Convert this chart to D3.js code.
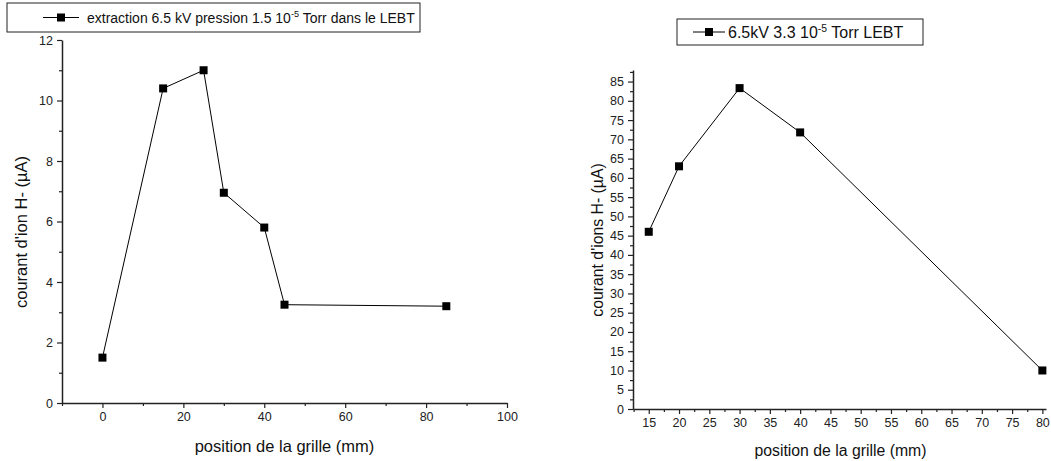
<!DOCTYPE html>
<html>
<head>
<meta charset="utf-8">
<script src="https://cdn.jsdelivr.net/npm/d3@7"></script>
<style>
  body { margin: 0; background: #fff; }
  svg { font-family: "Liberation Sans", Arial, sans-serif; }
</style>
</head>
<body>
<svg id="chart" width="1051" height="461"></svg>
<script>
// left panel data
const leftX = [0, 15, 25, 30, 40, 45, 85];
const leftY = [1.5, 10.4, 11, 6.95, 5.8, 3.25, 3.2];
const leftXTicks = [0, 20, 40, 60, 80, 100];
const leftYTicks = [0, 2, 4, 6, 8, 10, 12];

// right panel data
const rightX = [15, 20, 30, 40, 80];
const rightY = [46, 63, 83.3, 71.8, 10];
const rightXTicks = d3.range(15, 81, 5);
const rightYTicks = d3.range(0, 86, 5);

let svg = d3.select("#chart");

function panel(cfg) {
    let g = svg.append("g");
    let x = d3.scaleLinear().domain(cfg.xDomain).range([cfg.left, cfg.right]);
    let y = d3.scaleLinear().domain(cfg.yDomain).range([cfg.bottom, cfg.top]);

    // minor ticks
    g.append("g")
        .attr("transform", `translate(0,${cfg.bottom})`)
        .call(d3.axisBottom(x).tickValues(cfg.xMinor).tickSize(3).tickFormat(""))
        .call(a => a.select(".domain").remove());
    g.append("g")
        .attr("transform", `translate(${cfg.left},0)`)
        .call(d3.axisLeft(y).tickValues(cfg.yMinor).tickSize(3).tickFormat(""))
        .call(a => a.select(".domain").remove());

    let xa = g.append("g")
        .attr("transform", `translate(0,${cfg.bottom})`)
        .call(d3.axisBottom(x).tickValues(cfg.xTicks).tickSize(5).tickSizeOuter(0).tickPadding(4));
    let ya = g.append("g")
        .attr("transform", `translate(${cfg.left},0)`)
        .call(d3.axisLeft(y).tickValues(cfg.yTicks).tickSize(5).tickSizeOuter(0).tickPadding(4));

    [xa, ya].forEach(a => {
        a.selectAll("text").attr("font-size", 12.5).attr("font-family", "Liberation Sans, Arial").attr("fill", "#222");
        a.select(".domain").attr("stroke", "#222").attr("stroke-width", 1.5);
    });
    g.selectAll(".tick line").attr("stroke", "#222").attr("stroke-width", 1.2);

    // series line
    let pts = cfg.xs.map((d, i) => [d, cfg.ys[i]]);
    g.append("path")
        .datum(pts)
        .attr("fill", "none")
        .attr("stroke", "#000")
        .attr("stroke-width", 1)
        .attr("d", d3.line().x(d => x(d[0])).y(d => y(d[1])));

    g.selectAll(".pt")
        .data(pts)
        .enter().append("rect")
        .attr("class", "pt")
        .attr("x", d => x(d[0]) - 4)
        .attr("y", d => y(d[1]) - 4)
        .attr("width", 8)
        .attr("height", 8)
        .attr("fill", "#000");

    // axis titles
    g.append("text")
        .attr("x", (cfg.left + cfg.right) / 2 + cfg.xTitleDx)
        .attr("y", cfg.xTitleY)
        .attr("text-anchor", "middle")
        .attr("font-size", cfg.titleFont)
        .attr("fill", "#111")
        .text("position de la grille (mm)");
    g.append("text")
        .attr("transform", `translate(${cfg.yTitleX},${cfg.yTitleY}) rotate(-90)`)
        .attr("text-anchor", "middle")
        .attr("font-size", cfg.titleFont)
        .attr("fill", "#111")
        .text(cfg.yTitle);

    // legend
    let lg = g.append("g");
    lg.append("rect")
        .attr("x", cfg.leg[0]).attr("y", cfg.leg[1])
        .attr("width", cfg.leg[2]).attr("height", cfg.leg[3])
        .attr("fill", "#fff").attr("stroke", "#222").attr("stroke-width", 1);
    let ly = cfg.leg[1] + cfg.leg[3] / 2;
    let lx = cfg.leg[0] + cfg.legPad;
    lg.append("line")
        .attr("x1", lx).attr("x2", lx + cfg.legLine)
        .attr("y1", ly).attr("y2", ly)
        .attr("stroke", "#000").attr("stroke-width", 1);
    lg.append("rect")
        .attr("x", lx + cfg.legLine / 2 - 4).attr("y", ly - 4)
        .attr("width", 8).attr("height", 8).attr("fill", "#000");
    let t = lg.append("text")
        .attr("x", lx + cfg.legLine + cfg.legGap).attr("y", ly + cfg.legFont * 0.36)
        .attr("font-size", cfg.legFont)
        .attr("fill", "#111");
    t.append("tspan").text(cfg.legA);
    t.append("tspan").attr("font-size", cfg.legFont * 0.65).attr("dy", -6).text("-5");
    t.append("tspan").attr("dy", 6).text(cfg.legB);
}

panel({
    xDomain: [-10, 100], yDomain: [0, 12],
    left: 62, right: 507, top: 40, bottom: 403,
    xTicks: leftXTicks, yTicks: leftYTicks,
    xMinor: [-10, 10, 30, 50, 70, 90], yMinor: [1, 3, 5, 7, 9, 11],
    xs: leftX, ys: leftY,
    titleFont: 16.5,
    xTitleDx: 0, xTitleY: 452,
    yTitleX: 27, yTitleY: 232,
    yTitle: "courant d'ion H- (µA)",
    leg: [7, 3, 413, 29], legPad: 36, legLine: 36, legGap: 8, legFont: 14,
    legA: "extraction 6.5 kV pression 1.5 10", legB: " Torr dans le LEBT"
});

panel({
    xDomain: [12.4, 80.6], yDomain: [0, 88],
    left: 633, right: 1046, top: 70, bottom: 409,
    xTicks: rightXTicks, yTicks: rightYTicks,
    xMinor: d3.range(12.5, 81, 5), yMinor: d3.range(2.5, 88, 5),
    xs: rightX, ys: rightY,
    titleFont: 15.8,
    xTitleDx: 1, xTitleY: 456,
    yTitleX: 603, yTitleY: 240,
    yTitle: "courant d'ions H- (µA)",
    leg: [677, 19, 246, 26], legPad: 16, legLine: 32, legGap: 3, legFont: 16,
    legA: "6.5kV 3.3 10", legB: " Torr LEBT"
});
</script>
</body>
</html>
